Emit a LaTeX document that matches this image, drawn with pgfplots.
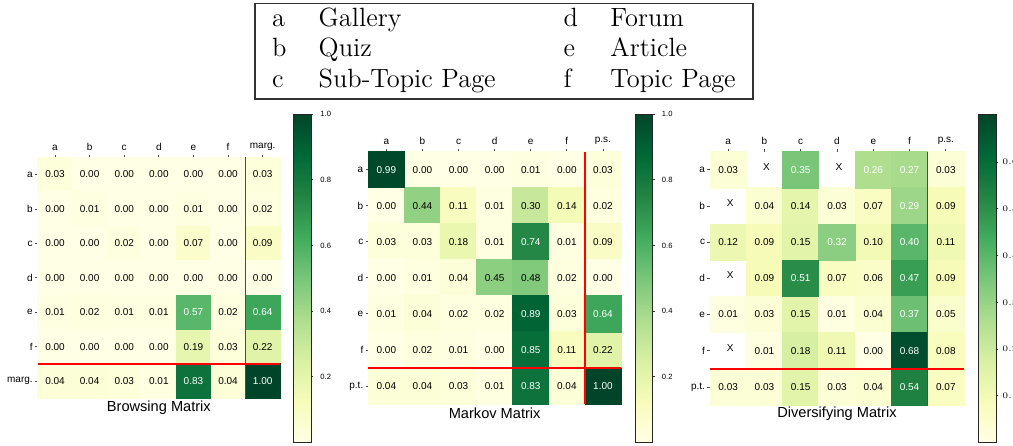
\documentclass[border=0pt]{standalone}
\usepackage{pgfplots}
\usepackage{pgfplotstable}
\usepackage{fontspec}
\usetikzlibrary{calc}
\pgfplotsset{compat=1.18}
\newfontfamily\arial{Liberation Sans}

% YlGn
\definecolor{c0}{RGB}{255,255,229}
\definecolor{c1}{RGB}{247,252,185}
\definecolor{c2}{RGB}{217,240,163}
\definecolor{c3}{RGB}{173,221,142}
\definecolor{c4}{RGB}{120,198,121}
\definecolor{c5}{RGB}{65,171,93}
\definecolor{c6}{RGB}{35,132,67}
\definecolor{c7}{RGB}{0,104,55}
\definecolor{c8}{RGB}{0,69,41}

\tikzset{
  sep/.style={red, line width=0.75pt},
  ttl/.style={font=\arial\fontsize{7.3}{8.5}\selectfont, yshift=-4.5pt},
}

\pgfplotsset{
  colormap={ylgn}{rgb255(0cm)=(255,255,229); rgb255(1cm)=(247,252,185);
    rgb255(2cm)=(217,240,163); rgb255(3cm)=(173,221,142); rgb255(4cm)=(120,198,121);
    rgb255(5cm)=(65,171,93); rgb255(6cm)=(35,132,67); rgb255(7cm)=(0,104,55);
    rgb255(8cm)=(0,69,41)},
  hm/.style={
    scale only axis, anchor=north west,
    xmin=-0.5, xmax=6.5, ymin=-0.5, ymax=6.5,
    axis line style={draw=none},
    xtick={0,...,6}, ytick={0,...,6},
    xtick pos=right, xticklabel pos=right,
    ytick pos=left, yticklabel pos=left,
    xtick align=outside, ytick align=outside, major tick length=1.3pt,
    tick style={black!70, line width=0.4pt},
    ticklabel style={font=\arial\fontsize{5}{6}\selectfont, inner sep=1pt},
    xticklabel style={yshift=1pt},
    colormap name=ylgn,
    clip=false,
  },
  cb/.style={
    scale only axis, anchor=north west,
    height=164.25pt, xmin=0, xmax=1, ymin=0,
    xtick=\empty,
    axis line style={draw=black!85, line width=0.5pt},
    ytick pos=right, yticklabel pos=right,
    tick align=outside, major tick length=1.2pt,
    tick style={black!80, line width=0.4pt},
  },
  sanslab/.style={
    ytick={0.2,0.4,0.6,0.8,1.0},
    yticklabel style={font=\arial\fontsize{3.8}{4.5}\selectfont,
      /pgf/number format/.cd, fixed, fixed zerofill, precision=1,
      assume math mode=true},
  },
  % coloured squares, #1 = half cell size
  cells/.style={
    scatter, only marks, mark=square*, mark size=#1,
    scatter/use mapped color={draw=mapped color, fill=mapped color},
    point meta=explicit,
  },
  % printed values, #1 = text colour
  nums/.style={
    draw=none, mark=none, point meta=explicit,
    nodes near coords={\pgfmathprintnumber[fixed,fixed zerofill,precision=2,assume math mode=true]{\pgfplotspointmeta}},
    every node near coord/.append style={font=\arial\fontsize{5}{6}\selectfont,
      text=#1, anchor=center, inner sep=0pt},
  },
}

% gradient of a colour bar: #1 = left edge, #2 = width
\newcommand\cbarshade[2]{%
  \shade[bottom color=c0, top color=c1] (#1,-221.25pt) rectangle ++(#2,20.6pt);
  \shade[bottom color=c1, top color=c2] (#1,-200.72pt) rectangle ++(#2,20.6pt);
  \shade[bottom color=c2, top color=c3] (#1,-180.19pt) rectangle ++(#2,20.6pt);
  \shade[bottom color=c3, top color=c4] (#1,-159.66pt) rectangle ++(#2,20.6pt);
  \shade[bottom color=c4, top color=c5] (#1,-139.13pt) rectangle ++(#2,20.6pt);
  \shade[bottom color=c5, top color=c6] (#1,-118.59pt) rectangle ++(#2,20.6pt);
  \shade[bottom color=c6, top color=c7] (#1,-98.06pt) rectangle ++(#2,20.6pt);
  \shade[bottom color=c7, top color=c8] (#1,-77.53pt) rectangle ++(#2,20.53pt);
}

% red separators of the last row and column of axis #1
\newcommand\seps[1]{%
  \draw[sep] ($(#1.north west)!0.857143!(#1.north east)$) -- ($(#1.south west)!0.857143!(#1.south east)$);
  \draw[sep] ($(#1.north west)!0.857143!(#1.south west)$) -- ($(#1.north east)!0.857143!(#1.south east)$);
}

% rows: a=6 ... f=1, marg./p.t.=0
% ...L: cells with black numbers, ...D: cells with white numbers
\pgfplotstableread{
x y v
0 6 0.03
1 6 0.00
2 6 0.00
3 6 0.00
4 6 0.00
5 6 0.00
6 6 0.03
0 5 0.00
1 5 0.01
2 5 0.00
3 5 0.00
4 5 0.01
5 5 0.00
6 5 0.02
0 4 0.00
1 4 0.00
2 4 0.02
3 4 0.00
4 4 0.07
5 4 0.00
6 4 0.09
0 3 0.00
1 3 0.00
2 3 0.00
3 3 0.00
4 3 0.00
5 3 0.00
6 3 0.00
0 2 0.01
1 2 0.02
2 2 0.01
3 2 0.01
5 2 0.02
0 1 0.00
1 1 0.00
2 1 0.00
3 1 0.00
4 1 0.19
5 1 0.03
6 1 0.22
0 0 0.04
1 0 0.04
2 0 0.03
3 0 0.01
5 0 0.04
}\browsingL
\pgfplotstableread{
x y v
4 2 0.57
6 2 0.64
4 0 0.83
6 0 1.00
}\browsingD

\pgfplotstableread{
x y v
1 6 0.00
2 6 0.00
3 6 0.00
4 6 0.01
5 6 0.00
6 6 0.03
0 5 0.00
1 5 0.44
2 5 0.11
3 5 0.01
4 5 0.30
5 5 0.14
6 5 0.02
0 4 0.03
1 4 0.03
2 4 0.18
3 4 0.01
5 4 0.01
6 4 0.09
0 3 0.00
1 3 0.01
2 3 0.04
3 3 0.45
4 3 0.48
5 3 0.02
6 3 0.00
0 2 0.01
1 2 0.04
2 2 0.02
3 2 0.02
5 2 0.03
0 1 0.00
1 1 0.02
2 1 0.01
3 1 0.00
5 1 0.11
6 1 0.22
0 0 0.04
1 0 0.04
2 0 0.03
3 0 0.01
5 0 0.04
}\markovL
\pgfplotstableread{
x y v
0 6 0.99
4 4 0.74
4 2 0.89
6 2 0.64
4 1 0.85
4 0 0.83
6 0 1.00
}\markovD

\pgfplotstableread{
x y v
0 6 0.03
6 6 0.03
1 5 0.04
2 5 0.14
3 5 0.03
4 5 0.07
6 5 0.09
0 4 0.12
1 4 0.09
2 4 0.15
4 4 0.10
6 4 0.11
1 3 0.09
3 3 0.07
4 3 0.06
6 3 0.09
0 2 0.01
1 2 0.03
2 2 0.15
3 2 0.01
4 2 0.04
6 2 0.05
1 1 0.01
2 1 0.18
3 1 0.11
4 1 0.00
6 1 0.08
0 0 0.03
1 0 0.03
2 0 0.15
3 0 0.03
4 0 0.04
6 0 0.07
}\diversifyingL
\pgfplotstableread{
x y v
2 6 0.35
4 6 0.26
5 6 0.27
5 5 0.29
3 4 0.32
5 4 0.40
2 3 0.51
5 3 0.47
5 2 0.37
5 1 0.68
5 0 0.54
}\diversifyingD

\begin{document}
\begin{tikzpicture}
\useasboundingbox (0,0) rectangle (506.5pt,-222.5pt);

% key
\draw[black!80, line width=0.6pt] (127.5pt,-1.65pt) rectangle (376.5pt,-49.5pt);
\begin{scope}[every node/.style={anchor=base west, inner sep=0pt, font=\fontsize{13.2}{15}\selectfont}]
\node at (135.85pt,-13.35pt) {a};
\node at (159.15pt,-13.35pt) {Gallery};
\node at (135.85pt,-28.35pt) {b};
\node at (159.15pt,-28.35pt) {Quiz};
\node at (135.85pt,-43.65pt) {c};
\node at (159.15pt,-43.65pt) {Sub-Topic Page};
\node at (281.65pt,-13.35pt) {d};
\node at (305pt,-13.35pt) {Forum};
\node at (281.65pt,-28.35pt) {e};
\node at (305pt,-28.35pt) {Article};
\node at (281.65pt,-43.65pt) {f};
\node at (305pt,-43.65pt) {Topic Page};
\end{scope}

% colour bars
\cbarshade{146.5pt}{9pt}
\cbarshade{317.5pt}{8.75pt}
\cbarshade{489.15pt}{8.85pt}
\begin{axis}[cb, sanslab, at={(146.5pt,-57pt)}, width=9pt, ymax=1]
\end{axis}
\begin{axis}[cb, sanslab, at={(317.5pt,-57pt)}, width=8.75pt, ymax=1]
\end{axis}
\begin{axis}[cb, at={(489.15pt,-57pt)}, width=8.85pt, ymax=0.703,
  ytick={0.1,0.2,0.3,0.4,0.5,0.6},
  yticklabel style={font=\fontsize{4.3}{5}\selectfont, xshift=-1.5pt,
    /pgf/number format/assume math mode=true}]
\end{axis}

% Browsing
\begin{axis}[hm, name=m1, at={(18.85pt,-78.65pt)}, width=121.15pt, height=120.5pt,
  xticklabels={a,b,c,d,e,f,marg.},
  yticklabels={marg.,f,e,d,c,b,a},
  point meta min=0, point meta max=1]
\addplot[cells=8.65pt] table[x=x, y=y, meta=v] {\browsingL};
\addplot[cells=8.65pt] table[x=x, y=y, meta=v] {\browsingD};
\addplot[nums=black] table[x=x, y=y, meta=v] {\browsingL};
\addplot[nums=white] table[x=x, y=y, meta=v] {\browsingD};
\node[ttl] at (axis description cs:0.5,0) {Browsing Matrix};
\end{axis}
\seps{m1}

% Markov
\begin{axis}[hm, name=m2, at={(184.15pt,-75.85pt)}, width=126.35pt, height=126.15pt,
  xticklabels={a,b,c,d,e,f,p.s.},
  yticklabels={p.t.,f,e,d,c,b,a},
  point meta min=0, point meta max=1]
\addplot[cells=9.02pt] table[x=x, y=y, meta=v] {\markovL};
\addplot[cells=9.02pt] table[x=x, y=y, meta=v] {\markovD};
\addplot[nums=black] table[x=x, y=y, meta=v] {\markovL};
\addplot[nums=white] table[x=x, y=y, meta=v] {\markovD};
\node[ttl] at (axis description cs:0.5,0) {Markov Matrix};
\end{axis}
\seps{m2}

% Diversifying
\begin{axis}[hm, name=m3, at={(355pt,-75.85pt)}, width=127pt, height=126.65pt,
  xticklabels={a,b,c,d,e,f,p.s.},
  yticklabels={p.t.,f,e,d,c,b,a},
  point meta min=0, point meta max=0.703]
\addplot[cells=9.07pt] table[x=x, y=y, meta=v] {\diversifyingL};
\addplot[cells=9.07pt] table[x=x, y=y, meta=v] {\diversifyingD};
\addplot[nums=black] table[x=x, y=y, meta=v] {\diversifyingL};
\addplot[nums=white] table[x=x, y=y, meta=v] {\diversifyingD};
\addplot[draw=none, mark=none, point meta=y, nodes near coords={X},
  every node near coord/.append style={font=\arial\fontsize{5}{6}\selectfont,
    text=black, anchor=center, inner sep=0pt, xshift=1pt, yshift=1.5pt}]
  coordinates {(1,6) (3,6) (0,5) (0,3) (0,1)};
\node[ttl] at (axis description cs:0.5,0) {Diversifying Matrix};
\end{axis}
\seps{m3}
\end{tikzpicture}
\end{document}
